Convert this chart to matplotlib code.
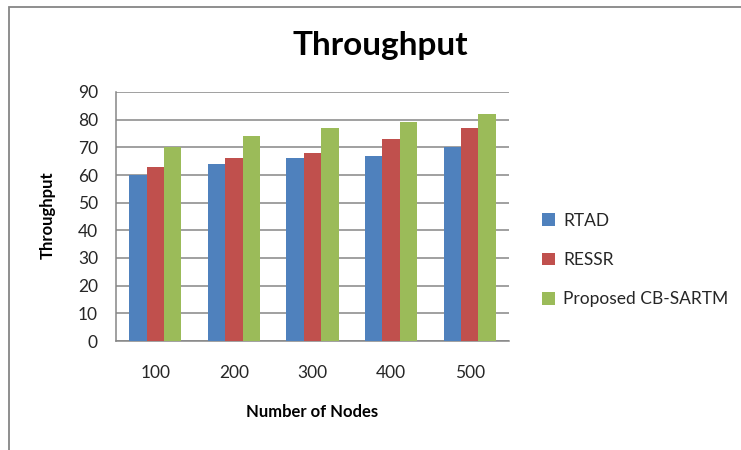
import matplotlib
matplotlib.use("Agg")
import matplotlib.pyplot as plt
from matplotlib.patches import Rectangle, Patch
import numpy as np

plt.rcParams['font.family'] = ['Lato', 'DejaVu Sans']

categories = ["100", "200", "300", "400", "500"]
series_names = ["RTAD", "RESSR", "Proposed CB-SARTM"]
rtad = [60, 64, 66, 67, 70]
ressr = [63, 66, 68, 73, 77]
proposed = [70, 74, 77, 79, 82]
colors = ["#4F81BD", "#C0504D", "#9BBB59"]
y_ticks = [0, 10, 20, 30, 40, 50, 60, 70, 80, 90]
text_color = "#262626"

W, H = 741, 450
fig = plt.figure(figsize=(W / 100, H / 100), dpi=100)

# chart area border (left and top edges visible)
fig.patches.append(Rectangle((8.5 / W, -0.1), 1.2, (H - 6.5) / H + 0.1,
                             transform=fig.transFigure, fill=False,
                             edgecolor="#868686", linewidth=1.3, zorder=0))

ax = fig.add_axes([116 / W, (H - 341) / H, (509 - 116) / W, (341 - 92) / H])

x = np.arange(len(categories))
w = 0.222
for i, (vals, name) in enumerate(zip([rtad, ressr, proposed], series_names)):
    ax.bar(x + (i - 1) * w, vals, width=w, color=colors[i], label=name,
           zorder=3, linewidth=0)

ax.set_xlim(-0.5, len(categories) - 0.5)
ax.set_ylim(0, 90)
ax.set_yticks(y_ticks)
ax.set_yticklabels([str(t) for t in y_ticks], fontsize=12.5, color=text_color)
ax.set_xticks(x)
ax.set_xticklabels(categories, fontsize=12.5, color=text_color)
ax.tick_params(axis="x", length=0, pad=17)
ax.tick_params(axis="y", length=0, pad=13)
ax.yaxis.grid(True, color="#868686", linewidth=1.1, zorder=0)
for s in ["top", "right"]:
    ax.spines[s].set_visible(False)
for s in ["left", "bottom"]:
    ax.spines[s].set_color("#868686")
    ax.spines[s].set_linewidth(1.1)

fig.text(380 / W, 1 - 45 / H, "Throughput", ha="center", va="center",
         fontsize=24, fontweight="bold", color="black")
fig.text(312 / W, 1 - 412 / H, "Number of Nodes", ha="center", va="center",
         fontsize=12, fontweight="bold", color="black")
fig.text(48 / W, 1 - 215 / H, "Throughput", ha="center", va="center",
         fontsize=12, fontweight="bold", rotation=90, color="black")

handles = [Patch(facecolor=c, edgecolor="none") for c in colors]
fig.legend(handles, series_names, loc="center left",
           bbox_to_anchor=(526 / W, 1 - 260 / H), frameon=False,
           fontsize=12.5, handlelength=0.75, handleheight=0.75,
           handletextpad=0.5, labelspacing=1.35, labelcolor=text_color)

fig.savefig("out.png", dpi=100)
